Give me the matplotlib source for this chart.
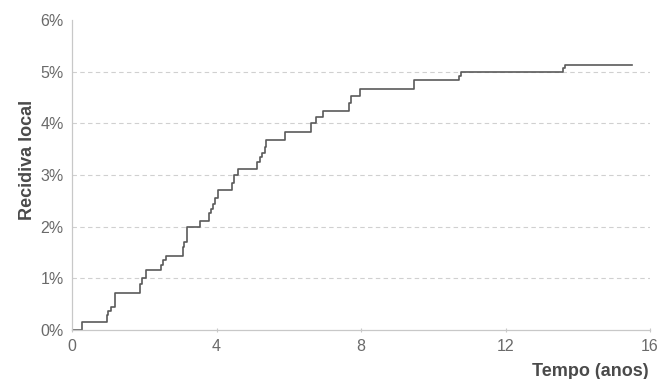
import numpy as np
import matplotlib
matplotlib.use("Agg")
import matplotlib.pyplot as plt
from matplotlib.ticker import FuncFormatter

plt.rcParams['font.family'] = ['Liberation Sans', 'DejaVu Sans']

# cumulative local recurrence (%) after each event time (years)
tempo = [0, 0.28, 0.96, 1.0, 1.07, 1.2, 1.88, 1.93, 2.05, 2.46, 2.53, 2.6,
         3.06, 3.1, 3.18, 3.53, 3.78, 3.84, 3.91, 3.97, 4.05, 4.42, 4.47,
         4.6, 5.13, 5.2, 5.25, 5.33, 5.37, 5.9, 6.61, 6.75, 6.94, 7.67,
         7.72, 7.98, 9.48, 10.7, 10.78, 13.6, 13.65, 15.5]
recidiva = [0, 0.15, 0.29, 0.36, 0.45, 0.72, 0.9, 1.0, 1.16, 1.26, 1.35, 1.43,
            1.6, 1.71, 2.0, 2.11, 2.26, 2.35, 2.44, 2.55, 2.71, 2.84, 3.0,
            3.11, 3.26, 3.35, 3.43, 3.55, 3.67, 3.84, 4.0, 4.13, 4.24, 4.4,
            4.53, 4.67, 4.84, 4.92, 5.0, 5.07, 5.13, 5.13]

x_ticks = [0, 4, 8, 12, 16]
y_ticks = [0, 1, 2, 3, 4, 5, 6]

fig = plt.figure(figsize=(6.67, 3.79), dpi=100)
ax = fig.add_axes([0.108, 0.1293, 0.8665, 0.8177])

ax.plot(tempo, recidiva, drawstyle='steps-post', color='#5a5a5a', lw=1.2)

ax.set_xlim(0, 16)
ax.set_ylim(0, 6)
ax.set_xticks(x_ticks)
ax.set_yticks(y_ticks)
ax.yaxis.set_major_formatter(FuncFormatter(lambda v, p: f"{v:.0f}%"))

for y in y_ticks[1:-1]:
    ax.axhline(y, color='#d0d0d0', lw=0.8, ls=(0, (4, 3)), zorder=0)

for side in ['top', 'right']:
    ax.spines[side].set_visible(False)
for side in ['left', 'bottom']:
    ax.spines[side].set_color('#c8c8c8')
    ax.spines[side].set_linewidth(0.9)

ax.tick_params(axis='y', length=0, pad=6, labelsize=11.5, labelcolor='#6a6a6a')
ax.tick_params(axis='x', length=3, direction='inout', color='#c8c8c8',
               pad=5, labelsize=11.5, labelcolor='#6a6a6a')

ax.set_ylabel('Recidiva local', fontsize=13, fontweight='bold', color='#4a4a4a')
ax.yaxis.set_label_coords(-0.063, 0.55)
ax.set_xlabel('Tempo (anos)', fontsize=13, fontweight='bold', color='#4a4a4a',
              ha='right')
ax.xaxis.set_label_coords(0.997, -0.105)

fig.savefig('out.png', dpi=100)
